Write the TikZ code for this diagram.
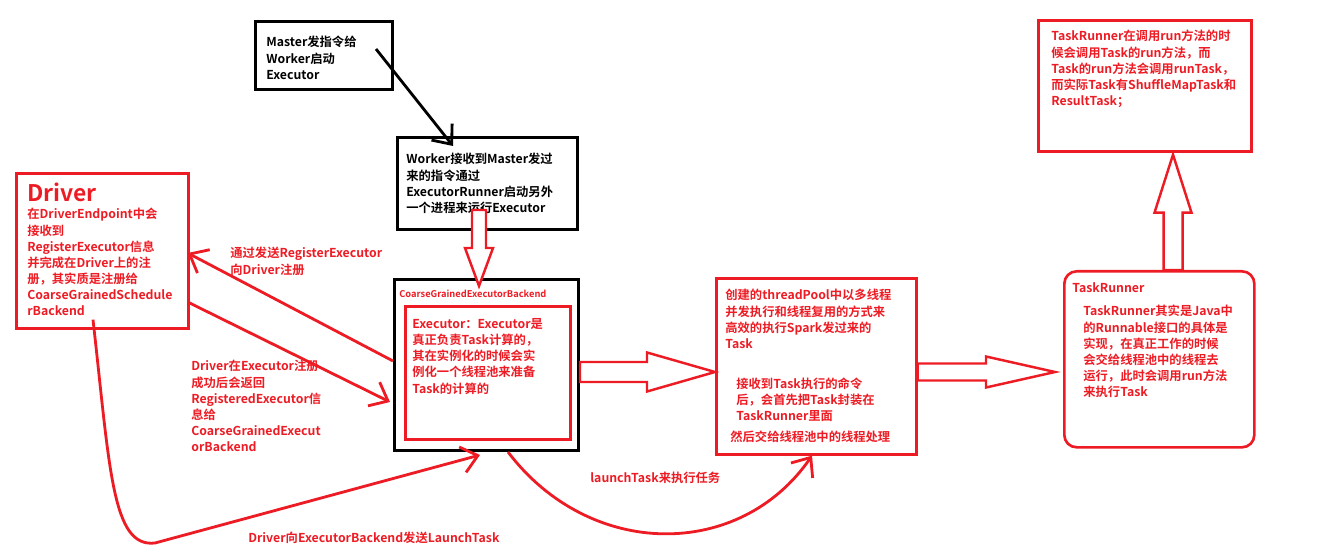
\documentclass[tikz,border=0pt]{standalone}
\usepackage{fontspec}
\setmainfont{Noto Sans CJK SC}[BoldFont=* Bold]
\usetikzlibrary{positioning, arrows.meta, calc}

\definecolor{paintred}{RGB}{237,28,36}

% 空心大箭头: {尾}{尖}{箭头长}{杆半宽}{头半宽}, 单位 px
\newcommand{\hollowarrow}[5]{%
  \coordinate (hb) at ($(#2)!#3*\px!(#1)$);
  \draw[hollow] ($(#1)!#4*\px!90:(#2)$) -- ($(hb)!#4*\px!90:(#2)$)
    -- ($(hb)!#5*\px!90:(#2)$) -- (#2) -- ($(hb)!#5*\px!-90:(#2)$)
    -- ($(hb)!#4*\px!-90:(#2)$) -- ($(#1)!#4*\px!-90:(#2)$) -- cycle;
}

\begin{document}
\begin{tikzpicture}[x=0.02cm, y=-0.02cm, >={Straight Barb[length=9pt, width=15pt]}]

  % --- 基本设置 ---
  \def\px{0.02cm}

  % 方框与文字的样式
  \tikzstyle{blackbox}=[draw=black, line width=1.7pt, anchor=north west, inner sep=0pt]
  \tikzstyle{redbox}=[draw=paintred, line width=1.5pt, anchor=north west, inner sep=0pt]
  \tikzstyle{txt}=[anchor=north west, inner sep=0pt, align=left, text=paintred, font={\fontsize{7}{9.2}\selectfont\bfseries}]
  \tikzstyle{redline}=[draw=paintred, line width=1.6pt]
  \tikzstyle{blackline}=[draw=black, line width=1.6pt]
  \tikzstyle{hollow}=[draw=paintred, line width=1.4pt, fill=white, line join=miter]

  \useasboundingbox (0,0) rectangle (1317,560);

  % --- Master 与 Worker ---
  \node[blackbox, minimum width=137*\px, minimum height=68*\px] (master) at (254,20) {};
  \node[txt, text=black] (mastertxt) at ($(master.north west)+(12,16)$)
    {Master发指令给\\Worker启动\\Executor};

  \node[blackbox, minimum width=180*\px, minimum height=92*\px] (worker) at (396,136) {};
  \node[txt, text=black] (workertxt) at ($(worker.north west)+(10,17)$)
    {Worker接收到Master发过\\来的指令通过\\ExecutorRunner启动另外\\一个进程来运行Executor};

  % --- Driver ---
  \node[redbox, minimum width=172*\px, minimum height=155*\px] (driver) at (15,172) {};
  \node[txt, font={\fontsize{13}{15}\selectfont\bfseries}] (drivertitle) at ($(driver.north west)+(12,11)$) {Driver};
  \node[txt] (drivertxt) at ($(driver.north west)+(12,36)$)
    {在DriverEndpoint中会\\接收到\\RegisterExecutor信息\\并完成在Driver上的注\\册，其实质是注册给\\CoarseGrainedSchedule\\rBackend};

  % --- CoarseGrainedExecutorBackend ---
  \node[blackbox, minimum width=184*\px, minimum height=171*\px] (cgeb) at (393,278) {};
  \node[txt, font={\fontsize{5.3}{6}\selectfont\bfseries}] (cgeblabel) at ($(cgeb.north west)+(6,12)$)
    {CoarseGrainedExecutorBackend};
  \node[redbox, minimum width=165*\px, minimum height=133*\px] (executor) at (404,305) {};
  \node[txt] (exectxt) at ($(executor.north west)+(8,13)$)
    {Executor：Executor是\\真正负责Task计算的，\\其在实例化的时候会实\\例化一个线程池来准备\\Task的计算的};

  % --- 线程池 ---
  \node[redbox, minimum width=200*\px, minimum height=176*\px] (pool) at (715,277) {};
  \node[txt] (pooltxt) at ($(pool.north west)+(10,12)$)
    {创建的threadPool中以多线程\\并发执行和线程复用的方式来\\高效的执行Spark发过来的\\Task};
  \node[txt] (wraptxt) at ($(pool.north west)+(21,100)$)
    {接收到Task执行的命令\\后，会首先把Task封装在\\TaskRunner里面};
  \node[txt] (handtxt) at ($(pool.north west)+(15,154)$) {然后交给线程池中的线程处理};

  % --- TaskRunner ---
  \node[redbox, rounded corners=7pt, minimum width=190*\px, minimum height=176*\px] (runner) at (1063,270) {};
  \node[txt] (runnertitle) at ($(runner.north west)+(9,12)$) {TaskRunner};
  \node[txt] (runnertxt) at ($(runner.north west)+(20,35)$)
    {TaskRunner其实是Java中\\的Runnable接口的具体是\\实现，在真正工作的时候\\会交给线程池中的线程去\\运行，此时会调用run方法\\来执行Task};

  \node[redbox, minimum width=213*\px, minimum height=131*\px] (result) at (1037,19) {};
  \node[txt] (resulttxt) at ($(result.north west)+(14,11)$)
    {TaskRunner在调用run方法的时\\候会调用Task的run方法，而\\Task的run方法会调用runTask，\\而实际Task有ShuffleMapTask和\\ResultTask；};

  % --- 连线 ---
  \draw[blackline, ->] ($(master.north west)+(122,29)$) -- ($(worker.north west)+(57,10)$);

  \draw[redline, ->] ($(cgeb.north west)+(0,83)$) -- ($(driver.north east)+(-2,81)$);
  \node[txt] (reglabel) at (230,247) {通过发送RegisterExecutor\\向Driver注册};

  \draw[redline, ->] ($(driver.north east)+(-2,130)$) -- ($(cgeb.north west)+(-3,124)$);
  \node[txt] (retlabel) at (191,360)
    {Driver在Executor注册\\成功后会返回\\RegisteredExecutor信\\息给\\CoarseGrainedExecut\\orBackend};

  \draw[redline, ->] ($(driver.south west)+(78,-10)$) .. controls (110,470) and (112,548) .. (155,543)
    -- ($(cgeb.south west)+(87,3)$);
  \node[txt] (launchlabel) at (248,532) {Driver向ExecutorBackend发送LaunchTask};

  \draw[redline, ->] ($(cgeb.south west)+(115,0)$) .. controls (590,560) and (740,560) .. ($(pool.south west)+(97,0)$);
  \node[txt] (tasklabel) at (590,472) {launchTask来执行任务};

  % --- 空心大箭头 ---
  \coordinate (w2c-tail) at ($(worker.north west)+(83,74)$);
  \coordinate (w2c-tip) at ($(cgeb.north west)+(86,8)$);
  \hollowarrow{w2c-tail}{w2c-tip}{38}{7}{14}

  \coordinate (c2p-tail) at ($(cgeb.north east)+(0,94)$);
  \coordinate (c2p-tip) at ($(pool.north west)+(0,95)$);
  \hollowarrow{c2p-tail}{c2p-tip}{68}{10}{19.5}

  \coordinate (p2r-tail) at ($(pool.north east)+(0,95)$);
  \coordinate (p2r-tip) at ($(runner.north west)+(-8,102)$);
  \hollowarrow{p2r-tail}{p2r-tip}{69}{8.5}{15.5}

  \coordinate (r2t-tail) at ($(runner.north west)+(110,0)$);
  \coordinate (r2t-tip) at ($(result.south west)+(136,2)$);
  \hollowarrow{r2t-tail}{r2t-tip}{58}{9.5}{18.5}

\end{tikzpicture}
\end{document}
